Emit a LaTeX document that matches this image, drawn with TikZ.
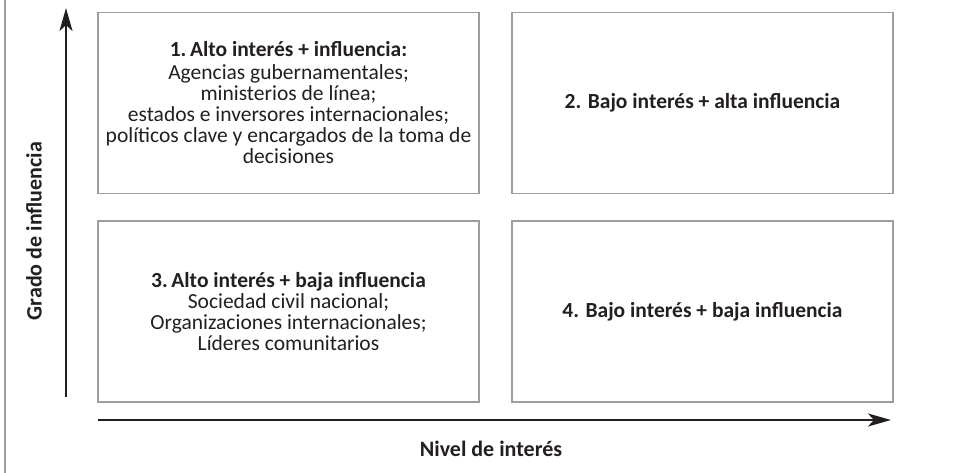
\documentclass[tikz,border=0pt]{standalone}
\usepackage{fontspec}
\setmainfont{Carlito}
\usetikzlibrary{arrows.meta}
\usetikzlibrary{positioning}

\definecolor{boxgray}{HTML}{9D9D9D}
\definecolor{inkblack}{HTML}{231F20}

\begin{document}
\begin{tikzpicture}[
          x=1pt, y=-1pt,
          every node/.style={font=\fontsize{21.5}{21}\selectfont, text=inkblack}
        ]

          % styles
          \tikzstyle{quad}=[draw=boxgray, line width=1.2pt, minimum width=381pt, minimum height=181pt, align=center, inner sep=0pt]
          \tikzstyle{axis}=[-{Stealth[length=23pt, width=13pt, inset=6pt]}, draw=inkblack, line width=2.6pt]
          \tikzstyle{axislabel}=[font=\bfseries\fontsize{22}{21}\selectfont]

          % frame
          \useasboundingbox (0,0) rectangle (978,473);
          \draw[boxgray, line width=1.2pt] (5,0) -- (5,473);

          % quadrants
          \node[quad] (q1) at (288.5,103) {\textbf{1.\,Alto interés + influencia:}\\[2pt]
            Agencias gubernamentales;\\ ministerios de línea;\\
            estados e inversores internacionales;\\
            políticos clave y encargados de la toma de\\ decisiones};
          \node[quad] (q2) at (702.5,103) {\textbf{2. Bajo interés + alta influencia}};
          \node[quad] (q3) at (288.5,311.5) {\textbf{3.\,Alto interés + baja influencia}\\
            Sociedad civil nacional;\\ Organizaciones internacionales;\\ Líderes comunitarios};
          \node[quad] (q4) at (702.5,311.5) {\textbf{4. Bajo interés + baja influencia}};

          % axes
          \coordinate (ybot) at (66,397);
          \coordinate (ytop) at (66,8);
          \coordinate (xleft) at (98,420);
          \coordinate (xright) at (891,420);
          \draw[axis] (ybot) -- (ytop);
          \draw[axis] (xleft) -- (xright);

          % axis labels
          \node[axislabel, rotate=90] (ylab) at (34,231) {Grado de influencia};
          \node[axislabel] (xlab) at (491,449) {Nivel de interés};

        \end{tikzpicture}
\end{document}
